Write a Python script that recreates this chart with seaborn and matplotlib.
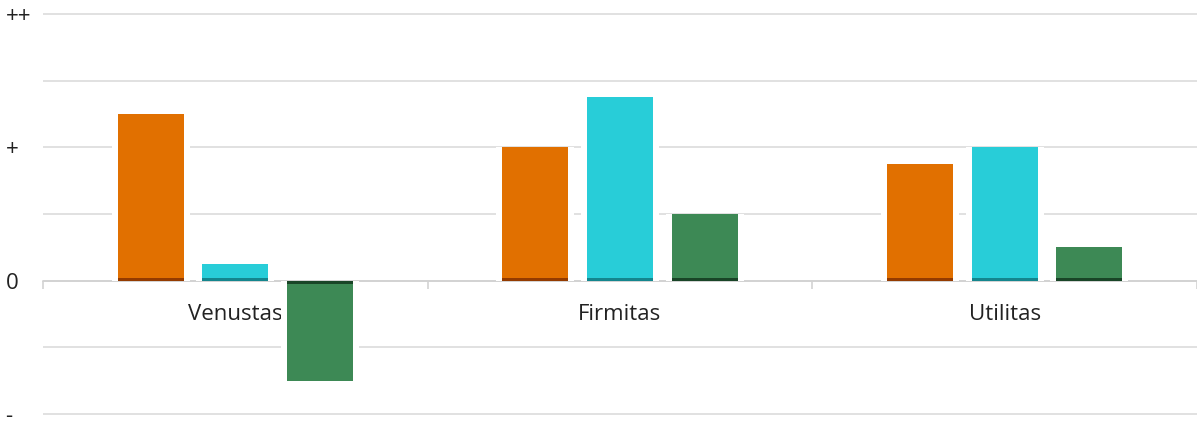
import numpy as np
import pandas as pd
import matplotlib
matplotlib.use("Agg")
import matplotlib.pyplot as plt
from matplotlib.ticker import FixedLocator
import seaborn as sns

# Scores per principle, one value per series
categories = ["Venustas", "Firmitas", "Utilitas"]
series_names = ["A", "B", "C"]
series_a = [1.25, 1.0, 0.875]
series_b = [0.125, 1.375, 1.0]
series_c = [-0.75, 0.5, 0.25]

ytick_values = [-1, 0, 1, 2]
ytick_labels = ["-", "0", "+", "++"]

colors = ["#E17000", "#28CDD8", "#3D8955"]
dark_colors = ["#7A2A00", "#0E6E76", "#0E2E18"]

df = pd.DataFrame({
    "category": np.repeat(categories, 3),
    "series": series_names * 3,
    "value": [v for trio in zip(series_a, series_b, series_c) for v in trio],
})
df["base"] = np.sign(df["value"]) * 0.022

sns.set_theme(style="white")
plt.rcParams["font.family"] = ["Open Sans", "DejaVu Sans"]

fig = plt.figure(figsize=(11.97, 4.21), dpi=100)
ax = fig.add_axes([43 / 1197, 3 / 421, 1 - 43 / 1197, 1 - 13 / 421])

common = dict(data=df, x="category", hue="series", hue_order=series_names,
              order=categories, width=0.66, legend=False, saturation=1, ax=ax)

# white halo that breaks the gridlines beside each bar
sns.barplot(y="value", palette=["white"] * 3, gap=0.08, linewidth=0,
            zorder=1.5, **common)
# coloured bars
sns.barplot(y="value", palette=colors, gap=0.22, linewidth=0,
            zorder=2, **common)
# darker strip at the baseline end of each bar
sns.barplot(y="base", palette=dark_colors, gap=0.22, linewidth=0,
            alpha=0.75, zorder=2.1, **common)

ax.set_xlim(-0.5, 2.5)
ax.set_ylim(-1.03, 2.03)
ax.set_xlabel("")
ax.set_ylabel("")

# y axis: labelled integers, gridlines every half step
ax.yaxis.set_major_locator(FixedLocator(ytick_values))
ax.yaxis.set_minor_locator(FixedLocator([-0.5, 0.5, 1.5]))
ax.set_yticklabels(ytick_labels)
ax.tick_params(axis="y", which="both", length=0, pad=27,
               labelsize=16, labelcolor="#222222")
for lab in ax.get_yticklabels():
    lab.set_horizontalalignment("left")
ax.grid(True, axis="y", which="both", color="#D9D9D9", linewidth=1.1)
ax.grid(False, axis="x")
ax.set_axisbelow(True)

# x axis sits on the zero line, with tick marks between categories
for side in ["top", "right", "left"]:
    ax.spines[side].set_visible(False)
ax.spines["bottom"].set_position(("data", 0))
ax.spines["bottom"].set_color("#D0D0D0")
ax.spines["bottom"].set_linewidth(1.1)
ax.spines["bottom"].set_zorder(0.6)
ax.xaxis.set_minor_locator(FixedLocator([-0.5, 0.5, 1.5, 2.5]))
ax.tick_params(axis="x", which="major", length=0, pad=17,
               labelsize=16, labelcolor="#222222")
ax.tick_params(axis="x", which="minor", bottom=True, length=6,
               width=1.1, color="#D0D0D0")

fig.savefig("out.png", dpi=100)
